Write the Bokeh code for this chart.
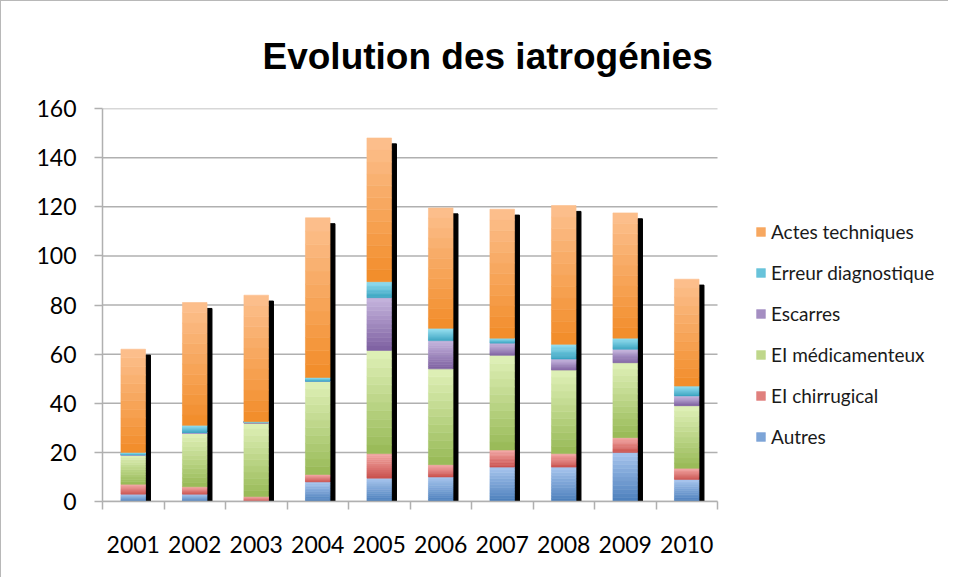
import numpy as np
from bokeh.plotting import figure
from bokeh.models import (ColumnDataSource, Range1d, FixedTicker, Legend, LegendItem, Title)
from bokeh.embed import file_html
from bokeh.resources import INLINE

years = ["2001", "2002", "2003", "2004", "2005", "2006", "2007", "2008", "2009", "2010"]
autres = [3, 3, 0, 8, 9.5, 10, 14, 14, 20, 9]
chirurgical = [4, 3, 2, 3, 10, 5, 7, 5.5, 6, 4.5]
medicamenteux = [12, 22, 30, 38, 42, 39, 38.5, 34, 30.5, 25.5]
escarres = [0, 0, 0.5, 0, 21.5, 11.5, 5, 4.5, 5.5, 4]
erreur = [1, 3, 0, 1.5, 6.5, 5, 2, 6, 4.5, 4]
actes = [42, 50, 51.5, 65, 58.5, 49, 52.5, 56.5, 51, 43.5]
y_ticks = [0, 20, 40, 60, 80, 100, 120, 140, 160]

series_names = ["Autres", "EI chirrugical", "EI médicamenteux", "Escarres",
                "Erreur diagnostique", "Actes techniques"]
series_values = [autres, chirurgical, medicamenteux, escarres, erreur, actes]
# gradient: (top colour, bottom colour)
grad_top = ["#a9c6ee", "#f4a9a6", "#e0f1b9", "#c6b6de", "#93def0", "#fcc08f"]
grad_bottom = ["#4a7ebb", "#c9504c", "#97b955", "#7d5fa0", "#36a3c0", "#f28c28"]

n = len(years)
x = np.arange(n)
BAR_W = 0.4
SHADOW_W = 0.08
N_SLICES = 12
PLOT_W = 615      # pixel width of the category area
FRAME_W = 846     # frame also hosts the legend on the right
x_end = -0.5 + n * FRAME_W / PLOT_W
GRID = "#b0b0b0"


def hex2rgb(h):
    return np.array([int(h[i:i + 2], 16) for i in (1, 3, 5)], dtype=float)


def rgb2hex(c):
    return "#%02x%02x%02x" % tuple(int(round(v)) for v in c)


p = figure(frame_width=FRAME_W, frame_height=393, output_backend="svg", toolbar_location=None,
           x_range=Range1d(-0.5, x_end), y_range=Range1d(0, 160),
           min_border_left=101, min_border_right=0, min_border_top=107, min_border_bottom=76)
p.outline_line_color = None
p.styles = {"border-left": "1px solid #b8b8b8", "border-top": "1px solid #b8b8b8"}
p.xgrid.grid_line_color = None
p.ygrid.grid_line_color = None

# horizontal gridlines limited to the category area
grid_src = ColumnDataSource(dict(x0=[-0.5] * len(y_ticks), x1=[n - 0.5] * len(y_ticks),
                                 y=y_ticks))
p.segment(x0="x0", y0="y", x1="x1", y1="y", source=grid_src,
          line_color=GRID, line_width=1.5)

totals = np.sum(series_values, axis=0)
shadow_src = ColumnDataSource(dict(x=x + BAR_W / 2 + SHADOW_W / 2, top=totals - 2.4))
p.vbar(x="x", width=SHADOW_W, bottom=0, top="top", source=shadow_src, color="black")

base = np.zeros(n)
renderers = []
for vals, ct, cb in zip(series_values, grad_top, grad_bottom):
    vals = np.asarray(vals, dtype=float)
    xs, bots, tops, cols = [], [], [], []
    for k in range(N_SLICES):
        f = (k + 0.5) / N_SLICES
        col = rgb2hex(hex2rgb(cb) * (1 - f) + hex2rgb(ct) * f)
        xs.extend(x)
        bots.extend(base + vals * k / N_SLICES)
        tops.extend(base + vals * (k + 1) / N_SLICES)
        cols.extend([col] * n)
    src = ColumnDataSource(dict(x=xs, bottom=bots, top=tops, color=cols))
    r = p.vbar(x="x", width=BAR_W, bottom="bottom", top="top", source=src,
               fill_color="color", line_color="color", line_width=0.6)
    renderers.append(r)
    base = base + vals

p.title = Title(text="Evolution des iatrogénies", align="left", offset=160,
                text_font="Liberation Sans", text_font_size="37px", text_font_style="bold",
                text_color="black", standoff=64)

xa = p.xaxis[0]
xa.bounds = (-0.5, n - 0.5)
xa.ticker = FixedTicker(ticks=list(x), minor_ticks=list(np.arange(n + 1) - 0.5))
xa.major_label_overrides = {int(i): y for i, y in zip(x, years)}
xa.major_tick_line_color = None
xa.major_tick_out = 0
xa.major_tick_in = 0
xa.minor_tick_out = 8
xa.minor_tick_in = 0
xa.minor_tick_line_color = GRID
xa.minor_tick_line_width = 1.5
xa.axis_line_color = GRID
xa.axis_line_width = 1.5
xa.major_label_text_font = "Lato"
xa.major_label_text_font_size = "23px"
xa.major_label_text_color = "black"
xa.major_label_standoff = 26

ya = p.yaxis[0]
ya.ticker = FixedTicker(ticks=y_ticks)
ya.minor_tick_line_color = None
ya.major_tick_out = 8
ya.major_tick_in = 0
ya.major_tick_line_color = GRID
ya.major_tick_line_width = 1.5
ya.axis_line_color = GRID
ya.axis_line_width = 1.5
ya.major_label_text_font = "Lato"
ya.major_label_text_font_size = "23px"
ya.major_label_text_color = "black"
ya.major_label_standoff = 18

mid_index = (N_SLICES // 2) * n
items = [LegendItem(label=s, renderers=[r], index=mid_index)
         for s, r in zip(series_names, renderers)][::-1]
leg = Legend(items=items, location=(653, 53), orientation="vertical",
             label_text_font="Lato", label_text_font_size="19px", label_text_color="#1a1a1a",
             glyph_width=11, glyph_height=11, label_height=22, label_standoff=5,
             spacing=18, padding=0, margin=0, border_line_color=None,
             background_fill_alpha=0)
p.add_layout(leg, "center")

open("out.html", "w").write(file_html(p, INLINE))
